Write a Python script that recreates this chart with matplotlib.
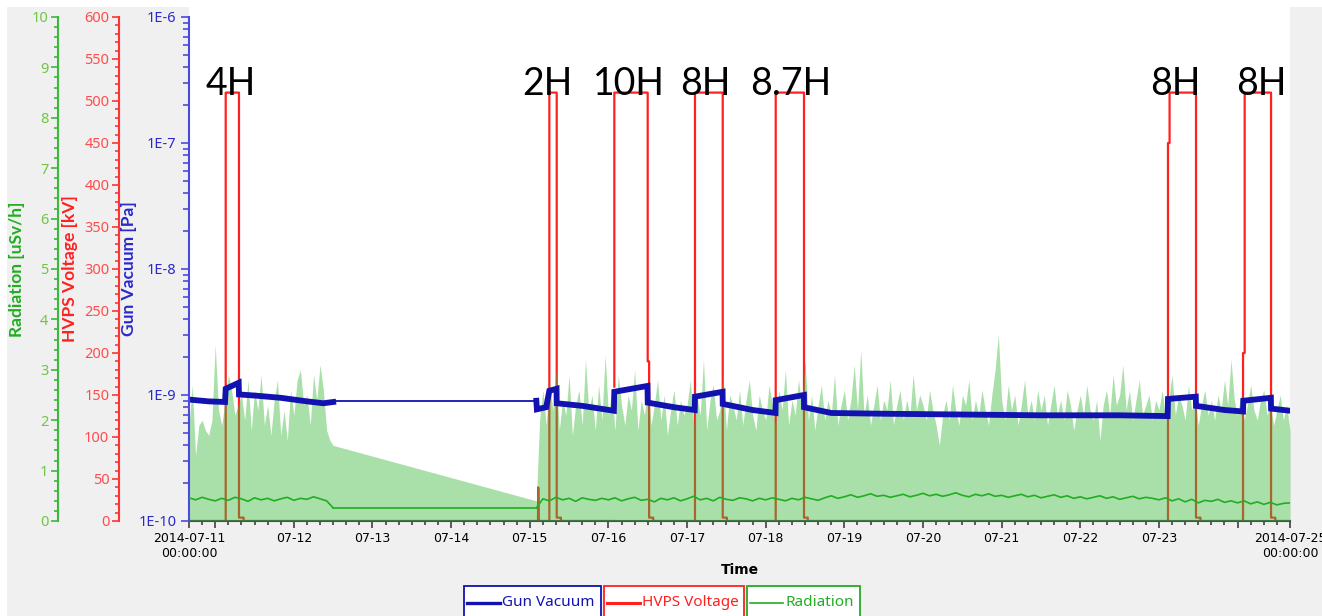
import numpy as np
import pandas as pd
import matplotlib
matplotlib.use("Agg")
import matplotlib.pyplot as plt
from matplotlib.patches import Rectangle
from matplotlib.lines import Line2D
from matplotlib.ticker import MultipleLocator, FixedLocator, FuncFormatter, LogLocator, NullFormatter
import matplotlib.dates as mdates

# time window of the chart
t_start = "2014-07-10 16:00"
t_end = "2014-07-24 16:00"

# radiation max envelope [uSv/h], hourly samples
rad_env_a_start = "2014-07-10 16:00"
rad_env_a = [1.9, 2.7, 1.3, 1.9, 2.0, 1.8, 1.7, 2.0,
             3.5, 2.2, 1.9, 2.4, 2.9, 2.6, 2.1, 2.3, 2.5, 2.0, 2.8, 1.8,
             2.6, 2.2, 2.9, 1.9, 2.3, 1.7, 2.4, 2.8, 1.7, 2.2, 1.6, 2.6,
             2.1, 2.8, 3.0, 2.3, 2.5, 1.9, 2.9, 2.4, 3.1, 2.6, 1.8, 1.6, 1.5]
rad_env_b_start = "2014-07-15 02:00"
rad_env_b = [0.4, 2.0, 2.6, 1.9, 2.8, 2.2, 3.0, 1.8, 2.4, 2.1, 2.9, 1.7, 2.3, 2.6, 1.9, 3.2, 2.2, 2.5, 1.8, 2.7, 2.0, 3.3,
             2.1, 2.6, 1.8, 2.9, 2.3, 1.9, 2.5, 2.2, 3.0, 1.8, 2.4, 2.1, 2.7, 1.9, 2.3, 2.8, 2.0, 2.5, 1.7, 2.2, 2.6, 1.9, 2.4, 2.1,
             2.3, 2.8, 1.9, 2.5, 2.1, 3.2, 1.8, 2.4, 2.7, 2.0, 2.2, 2.9, 1.8, 2.5, 2.3, 2.0, 2.6, 1.9, 2.4, 2.8, 2.1, 1.8, 2.5, 2.2,
             2.0, 2.7, 2.3, 1.9, 2.6, 2.2, 3.0, 1.9, 2.4, 2.1, 2.8, 2.3, 3.2, 2.0, 2.5, 1.8, 2.3, 2.7, 2.0, 2.4, 2.1, 2.9, 1.9, 2.3,
             2.6, 2.0, 2.4, 3.1, 2.2, 3.4, 2.1, 2.5, 1.9, 2.3, 2.7, 2.0, 2.4, 2.2, 2.8, 1.9, 2.3, 2.6, 2.0, 2.4, 2.1, 2.9, 2.2, 2.5,
             2.3, 2.0, 2.6, 2.2, 1.9, 1.5, 2.1, 2.4, 2.0, 2.7, 2.2, 1.9, 2.5, 2.3, 2.8, 2.0, 2.4, 2.1, 2.6, 2.2, 1.9, 2.5, 3.0, 3.7,
             2.4, 2.0, 2.7, 2.2, 2.5, 1.9, 2.3, 2.8, 2.1, 2.4, 2.0, 2.6, 2.2, 2.5, 1.9, 2.3, 2.7, 2.1, 2.4, 2.0, 2.6, 2.3, 1.8, 2.2,
             2.5, 2.1, 2.7, 2.2, 2.0, 2.4, 1.6, 2.3, 2.6, 2.1, 2.9, 2.3, 2.5, 3.1, 2.2, 2.6, 2.0, 2.4, 2.8, 2.1, 2.3, 2.5, 2.0, 2.4,
             2.2, 2.6, 2.0, 2.4, 2.9, 2.1, 2.5, 2.3, 2.0, 2.7, 2.2, 2.4, 1.9, 2.3, 2.6, 2.1, 2.4, 2.0, 2.5, 2.2, 2.8, 2.3, 3.2, 2.4,
             2.1, 2.5, 2.0, 2.3, 2.7, 2.2, 2.0, 2.4, 2.6, 2.1, 2.3, 1.9, 2.2, 2.5, 2.0, 2.3, 1.8]

# radiation [uSv/h], every 2 hours
rad_a_start = "2014-07-10 16:00"
rad_a = [0.46, 0.42, 0.47, 0.43, 0.40, 0.45, 0.41, 0.47, 0.44, 0.39, 0.46, 0.42,
         0.45, 0.40, 0.44, 0.47, 0.41, 0.45, 0.43, 0.48, 0.44, 0.40, 0.26]
rad_gap_time = ["2014-07-12 12:00", "2014-07-15 02:00"]
rad_gap = [0.26, 0.26]
rad_b_start = "2014-07-15 02:00"
rad_b = [0.26, 0.44, 0.40, 0.47, 0.42, 0.45, 0.39, 0.46, 0.43, 0.41, 0.45,
         0.42, 0.46, 0.40, 0.44, 0.47, 0.41, 0.43, 0.38, 0.45, 0.42, 0.46, 0.40,
         0.44, 0.49, 0.42, 0.45, 0.40, 0.47, 0.43, 0.41, 0.46, 0.44, 0.40, 0.45,
         0.42, 0.46, 0.43, 0.40, 0.45, 0.42, 0.47, 0.44, 0.41, 0.46, 0.50, 0.45,
         0.48, 0.52, 0.47, 0.50, 0.54, 0.49, 0.51, 0.47, 0.50, 0.53, 0.48, 0.51,
         0.55, 0.50, 0.53, 0.49, 0.52, 0.56, 0.51, 0.48, 0.53, 0.50, 0.54, 0.49,
         0.51, 0.47, 0.50, 0.53, 0.48, 0.51, 0.46, 0.49, 0.52, 0.47, 0.50, 0.45,
         0.48, 0.44, 0.47, 0.50, 0.45, 0.48, 0.43, 0.46, 0.49, 0.44, 0.47, 0.45,
         0.42, 0.46, 0.40, 0.44, 0.38, 0.43, 0.36, 0.41, 0.39, 0.43, 0.37, 0.40,
         0.36, 0.40, 0.34, 0.38, 0.33, 0.37, 0.32, 0.35, 0.36]

# gun vacuum [Pa]
vac_a_time = ["2014-07-10 16:00", "2014-07-10 22:00", "2014-07-11 03:00", "2014-07-11 03:12",
              "2014-07-11 07:10", "2014-07-11 07:15", "2014-07-11 12:00", "2014-07-11 20:00",
              "2014-07-12 04:00", "2014-07-12 09:00", "2014-07-12 12:00"]
vac_a_pa = [0.92e-9, 0.89e-9, 0.88e-9, 1.12e-9, 1.25e-9, 1.01e-9, 0.99e-9, 0.95e-9,
            0.89e-9, 0.86e-9, 0.88e-9]
vac_gap_time = ["2014-07-12 12:00", "2014-07-15 02:00"]
vac_gap_pa = [0.90e-9, 0.90e-9]
vac_b_time = ["2014-07-15 02:00", "2014-07-15 02:10", "2014-07-15 05:00", "2014-07-15 05:58",
              "2014-07-15 08:10", "2014-07-15 08:13", "2014-07-15 16:00", "2014-07-16 01:40",
              "2014-07-16 01:48", "2014-07-16 11:55", "2014-07-16 12:00", "2014-07-16 20:00",
              "2014-07-17 02:20", "2014-07-17 02:25", "2014-07-17 10:50", "2014-07-17 10:53",
              "2014-07-17 20:00", "2014-07-18 03:00", "2014-07-18 03:03", "2014-07-18 11:40",
              "2014-07-18 11:41", "2014-07-18 20:00", "2014-07-19 12:00", "2014-07-20 12:00",
              "2014-07-21 12:00", "2014-07-22 12:00", "2014-07-23 02:40", "2014-07-23 02:46",
              "2014-07-23 11:15", "2014-07-23 11:19", "2014-07-23 20:00", "2014-07-24 01:40",
              "2014-07-24 01:45", "2014-07-24 10:10", "2014-07-24 10:13", "2014-07-24 16:00"]
vac_b_pa = [0.90e-9, 0.77e-9, 0.80e-9, 1.08e-9, 1.12e-9, 0.86e-9, 0.82e-9, 0.75e-9,
            1.06e-9, 1.18e-9, 0.87e-9, 0.80e-9, 0.76e-9, 0.97e-9, 1.06e-9, 0.85e-9,
            0.76e-9, 0.72e-9, 0.91e-9, 1.00e-9, 0.80e-9, 0.72e-9, 0.71e-9, 0.70e-9,
            0.69e-9, 0.69e-9, 0.68e-9, 0.93e-9, 0.97e-9, 0.82e-9, 0.76e-9, 0.74e-9,
            0.90e-9, 0.95e-9, 0.78e-9, 0.75e-9]

# HVPS voltage [kV]
hv_time = ["2014-07-10 16:00", "2014-07-11 03:12", "2014-07-11 03:12", "2014-07-11 07:15",
           "2014-07-11 07:15", "2014-07-11 08:40", "2014-07-11 08:40",
           "2014-07-15 02:30", "2014-07-15 02:35", "2014-07-15 02:45",
           "2014-07-15 05:58", "2014-07-15 05:58", "2014-07-15 08:13", "2014-07-15 08:13",
           "2014-07-15 09:30", "2014-07-15 09:30", "2014-07-16 01:40",
           "2014-07-16 01:48", "2014-07-16 01:48", "2014-07-16 01:48", "2014-07-16 11:59",
           "2014-07-16 11:59", "2014-07-16 12:25", "2014-07-16 12:25", "2014-07-16 13:40",
           "2014-07-16 13:40",
           "2014-07-17 02:25", "2014-07-17 02:25", "2014-07-17 10:53", "2014-07-17 10:53",
           "2014-07-17 12:10", "2014-07-17 12:10",
           "2014-07-18 03:03", "2014-07-18 03:03", "2014-07-18 11:41", "2014-07-18 11:41",
           "2014-07-18 12:50", "2014-07-18 12:50",
           "2014-07-23 02:46", "2014-07-23 02:46", "2014-07-23 03:15", "2014-07-23 03:15",
           "2014-07-23 11:19", "2014-07-23 11:19", "2014-07-23 12:40", "2014-07-23 12:40",
           "2014-07-24 01:40", "2014-07-24 01:40", "2014-07-24 02:10", "2014-07-24 02:10",
           "2014-07-24 10:13", "2014-07-24 10:13", "2014-07-24 11:30", "2014-07-24 11:30",
           "2014-07-24 16:00"]
hv_kv = [0, 0, 510, 510,
         4, 4, 0,
         0, 40, 0,
         0, 510, 510, 4,
         4, 0, 0,
         np.nan, 160, 510, 510,
         190, 190, 4, 4,
         0,
         0, 510, 510, 4,
         4, 0,
         0, 510, 510, 4,
         4, 0,
         0, 450, 450, 510,
         510, 4, 4, 0,
         0, 200, 200, 510,
         510, 4, 4, 0,
         0]

# run durations written above the pulses
run_labels = ["4H", "2H", "10H", "8H", "8.7H", "8H", "8H"]
run_label_time = ["2014-07-11 04:50", "2014-07-15 05:15", "2014-07-16 06:15", "2014-07-17 05:30",
                  "2014-07-18 07:45", "2014-07-23 04:55", "2014-07-24 07:10"]

# colours
c_blue, c_blue_ax, c_blue_lbl = "#1212b0", "#4a4ae0", "#2a2acc"
c_red, c_red_ax, c_red_lbl = "#ff2020", "#ff3535", "#ff4d4d"
c_green, c_green_ax, c_green_lbl = "#22ad22", "#3cb83c", "#72c545"
c_fill = "#40bb40"

W, H = 1322, 616
fig = plt.figure(figsize=(W / 100, H / 100), dpi=100, facecolor="white")
fig.add_artist(Rectangle((7 / W, 0), 1, (H - 7) / H, transform=fig.transFigure,
                         facecolor="#f0f0f0", edgecolor="none", zorder=-10))
ax_rect = [189 / W, (H - 521) / H, 1101 / W, 504 / H]
fig.add_artist(Rectangle((ax_rect[0], ax_rect[1]), ax_rect[2], 1, transform=fig.transFigure,
                         facecolor="white", edgecolor="none", zorder=-9))

ax_hv = fig.add_axes(ax_rect)
ax_fill = ax_hv.twinx()
ax_vac = ax_hv.twinx()
ax_rad = ax_hv.twinx()

tick_font = {"family": "Noto Sans", "size": 10.5}
label_font = {"family": "Lato", "size": 12.5, "weight": "bold"}


def left_axis(a, color, lblcolor, offset_px):
    a.yaxis.set_ticks_position("left")
    a.yaxis.set_label_position("left")
    for s in ["top", "right", "bottom"]:
        a.spines[s].set_visible(False)
    a.spines["left"].set_position(("outward", offset_px * 72 / 100))
    a.spines["left"].set_color(color)
    a.spines["left"].set_linewidth(1.5)
    a.tick_params(axis="y", which="both", direction="out", color=color, labelcolor=lblcolor, width=1.2)
    a.tick_params(axis="y", which="major", length=5, pad=2)
    a.tick_params(axis="y", which="minor", length=3)
    for lbl in a.get_yticklabels():
        lbl.set_fontfamily(tick_font["family"])
        lbl.set_fontsize(tick_font["size"])


# HVPS voltage (bottom layer, so the radiation fill tints it brown)
t_hv = pd.to_datetime(hv_time)
ax_hv.plot(t_hv, hv_kv, color=c_red, lw=1.6)
ax_hv.set_ylim(0, 600)
ax_hv.yaxis.set_major_locator(MultipleLocator(50))
ax_hv.yaxis.set_minor_locator(MultipleLocator(10))
left_axis(ax_hv, c_red_ax, c_red_lbl, 70)
ax_hv.spines["bottom"].set_visible(True)
ax_hv.spines["bottom"].set_color("#404040")
ax_hv.spines["bottom"].set_linewidth(1.5)
ax_hv.set_ylabel("HVPS Voltage [kV]", color=c_red, fontdict=label_font)
ax_hv.yaxis.set_label_coords((78 - 189) / 1101, 0.5)

# radiation envelope (semi-transparent fill)
t_env = np.concatenate([pd.date_range(rad_env_a_start, periods=len(rad_env_a), freq="h"),
                        pd.date_range(rad_env_b_start, periods=len(rad_env_b), freq="h")])
env = np.concatenate([rad_env_a, rad_env_b])
ax_fill.fill_between(t_env, 0, env, color=c_fill, alpha=0.45, lw=0)
ax_fill.set_ylim(0, 10)
ax_fill.yaxis.set_major_locator(MultipleLocator(1))
ax_fill.yaxis.set_minor_locator(MultipleLocator(0.2))
left_axis(ax_fill, c_green_ax, c_green_lbl, 131)
ax_fill.set_ylabel("Radiation [uSv/h]", color=c_green, fontdict=label_font)
ax_fill.yaxis.set_label_coords((25 - 189) / 1101, 0.5)

# gun vacuum (log axis next to the plot)
ax_vac.set_yscale("log")
ax_vac.plot(pd.to_datetime(vac_a_time), vac_a_pa, color=c_blue, lw=4.2, solid_joinstyle="miter")
ax_vac.plot(pd.to_datetime(vac_gap_time), vac_gap_pa, color=c_blue, lw=1.3)
ax_vac.plot(pd.to_datetime(vac_b_time), vac_b_pa, color=c_blue, lw=4.2, solid_joinstyle="miter")
ax_vac.set_ylim(1e-10, 1e-6)
ax_vac.yaxis.set_major_locator(LogLocator(base=10, numticks=10))
ax_vac.yaxis.set_minor_locator(LogLocator(base=10, subs=np.arange(2, 10), numticks=10))
ax_vac.yaxis.set_minor_formatter(NullFormatter())
ax_vac.yaxis.set_major_formatter(FuncFormatter(lambda v, p: "1E%d" % round(np.log10(v))))
left_axis(ax_vac, c_blue_ax, c_blue_lbl, 0)
ax_vac.tick_params(axis="y", which="major", length=6, pad=3)
ax_vac.tick_params(axis="y", which="minor", length=4)
ax_vac.set_ylabel("Gun Vacuum [Pa]", color=c_blue_lbl, fontdict=label_font)
ax_vac.yaxis.set_label_coords((137 - 189) / 1101, 0.5)

# radiation line (top layer)
ax_rad.plot(pd.date_range(rad_a_start, periods=len(rad_a), freq="2h"), rad_a, color=c_green, lw=1.2)
ax_rad.plot(pd.to_datetime(rad_gap_time), rad_gap, color=c_green, lw=1.2)
ax_rad.plot(pd.date_range(rad_b_start, periods=len(rad_b), freq="2h"), rad_b, color=c_green, lw=1.2)
ax_rad.set_ylim(0, 10)
ax_rad.axis("off")

# run duration labels
for lbl, t in zip(run_labels, pd.to_datetime(run_label_time)):
    ax_rad.text(t, (521 - 95) / 504, lbl, transform=ax_rad.get_xaxis_transform(),
                ha="center", va="baseline", fontsize=27, family="Lato", color="black", clip_on=False)

# time axis
x0, x1 = pd.Timestamp(t_start), pd.Timestamp(t_end)
ax_hv.set_xlim(x0, x1)
days = pd.date_range("2014-07-11", "2014-07-24", freq="D")
major = [mdates.date2num(x0)] + [mdates.date2num(d) for d in days] + [mdates.date2num(x1)]
ends = (major[0], major[-1])


def fmt_time(v, pos):
    d = mdates.num2date(v).replace(tzinfo=None)
    if v in ends:
        return pd.Timestamp(d).round("D").strftime("%Y-%m-%d\n%H:%M:%S")
    if min(abs(v - ends[0]), abs(v - ends[1])) < 1:
        return ""
    return d.strftime("%m-%d")


ax_hv.xaxis.set_major_locator(FixedLocator(major))
ax_hv.xaxis.set_major_formatter(FuncFormatter(fmt_time))
ax_hv.xaxis.set_minor_locator(mdates.HourLocator(byhour=[0, 4, 8, 12, 16, 20]))
ax_hv.tick_params(axis="x", which="both", direction="out", color="#404040", width=1.2)
ax_hv.tick_params(axis="x", which="major", length=5, pad=3, labelsize=9, labelcolor="black")
ax_hv.tick_params(axis="x", which="minor", length=3)
ax_hv.set_xlabel("Time", fontweight="bold", fontsize=10, family="DejaVu Sans", labelpad=2)

ax_hv.set_zorder(1)
ax_fill.set_zorder(2)
ax_vac.set_zorder(3)
ax_rad.set_zorder(4)
ax_hv.patch.set_facecolor("white")

# legend boxes below the plot
legend_items = [("Gun Vacuum", c_blue, 2.4), ("HVPS Voltage", c_red, 2.2), ("Radiation", c_green, 1.2)]
renderer = fig.canvas.get_renderer()
x = 464
for name, col, lw in legend_items:
    txt = fig.text((x + 38) / W, (H - 603) / H, name, color=col, fontsize=11, family="Noto Sans",
                   ha="left", va="center")
    w = txt.get_window_extent(renderer).width
    fig.add_artist(Line2D([(x + 3) / W, (x + 36) / W], [(H - 603) / H] * 2, color=col, lw=lw,
                          transform=fig.transFigure))
    right = x + 38 + w + 6
    fig.add_artist(Rectangle((x / W, -20 / H), (right - x) / W, (H - 586 + 20) / H,
                             transform=fig.transFigure, facecolor="white", edgecolor=col,
                             lw=1.3, zorder=-1))
    x = right + 3

fig.savefig("out.png", dpi=100)
